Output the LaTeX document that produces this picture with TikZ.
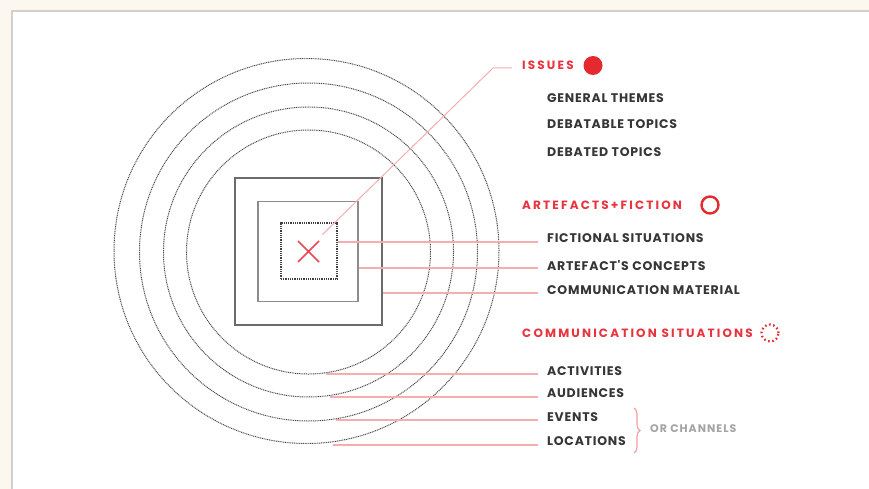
\documentclass[tikz,border=0pt]{standalone}
\usepackage{fontspec}
\usetikzlibrary{decorations.pathreplacing}
\newfontfamily\itemfont{Poppins}[LetterSpace=6]
\newfontfamily\headfont{Poppins}[LetterSpace=18]
\newfontfamily\grayfont{Poppins}[LetterSpace=9]
\definecolor{bgcream}{HTML}{FCF7EF}
\definecolor{panelline}{HTML}{D3CFCB}
\definecolor{hred}{HTML}{E8343F}
\definecolor{dotred}{HTML}{E52A2F}
\definecolor{pinkline}{HTML}{F4AEB3}
\definecolor{darktext}{HTML}{363636}
\definecolor{graytext}{HTML}{A4A4A4}
\definecolor{ringgray}{HTML}{4A4A4A}
\tikzset{
  ring/.style={circle, draw=ringgray, line width=1pt, dash pattern=on 1pt off 0.8pt, inner sep=0pt},
  sqbox/.style={rectangle, draw, inner sep=0pt},
  item/.style={anchor=west, inner sep=0pt, text=darktext, font=\itemfont\bfseries\fontsize{12.5}{12.5}\selectfont},
  head/.style={anchor=west, inner sep=0pt, text=hred, font=\headfont\bfseries\fontsize{12}{12}\selectfont},
  note/.style={anchor=west, inner sep=0pt, text=graytext, font=\grayfont\bfseries\fontsize{11}{11}\selectfont},
  conn/.style={draw=pinkline, line width=1.2pt},
}
\begin{document}
\begin{tikzpicture}[x=1pt,y=-1pt]
\useasboundingbox (0,0) rectangle (869,489);
\fill[bgcream] (0,0) rectangle (869,489);
\fill[white] (12,11) rectangle (869,489);
\draw[panelline, line width=1.5pt] (12,489) -- (12,11) -- (869,11);

% rings
\node[ring, minimum size=244pt] (c1) at (308.5,252) {};
\node[ring, minimum size=290pt] (c2) at (308.5,252) {};
\node[ring, minimum size=338pt] (c3) at (308.5,252) {};
\node[ring, minimum size=385pt] (c4) at (306.5,251) {};

% squares
\node[sqbox, draw=black!58, line width=1.6pt, minimum size=147pt] (sq1) at (308.5,251.5) {};
\node[sqbox, draw=black!45, line width=1.3pt, minimum size=100pt] (sq2) at (308,251.5) {};
\node[sqbox, draw=black!75, line width=1.3pt, dash pattern=on 1pt off 0.8pt, minimum size=56pt] (sq3) at (309,251) {};

% red X
\coordinate (xa) at (298,241);
\coordinate (xb) at (319,262);
\coordinate (xc) at (319,241);
\coordinate (xd) at (298,262);
\draw[hred!90, line width=1.5pt] (xa) -- (xb) (xc) -- (xd);

% headers
\node[head] (issues) at (522,65.5) {ISSUES};
\fill[dotred] (593,65.5) circle (9.5pt);
\node[head] (artf) at (522,205.5) {ARTEFACTS+FICTION};
\draw[dotred, line width=2.4pt] (710,205) circle (8.5pt);
\node[head] (comm) at (522,333) {COMMUNICATION SITUATIONS};
\draw[dotred, line width=2.2pt, dash pattern=on 1.6pt off 2.6pt] (770,333) circle (8.5pt);

% items
\node[item] (gen) at (547,98) {GENERAL THEMES};
\node[item] (deb) at (547,124.5) {DEBATABLE TOPICS};
\node[item] (dbd) at (547,152.5) {DEBATED TOPICS};
\node[item] (fict) at (547,238.5) {FICTIONAL SITUATIONS};
\node[item] (conc) at (547,266) {ARTEFACT'S CONCEPTS};
\node[item] (mat) at (547,290.5) {COMMUNICATION MATERIAL};
\node[item] (act) at (547,371) {ACTIVITIES};
\node[item] (aud) at (547,393.5) {AUDIENCES};
\node[item] (evt) at (547,417) {EVENTS};
\node[item] (loc) at (547,441) {LOCATIONS};
\node[note] (orch) at (650,429) {OR CHANNELS};

% issue connector
\coordinate (iss0) at (322,235);
\coordinate (iss1) at (493,68);
\coordinate (iss2) at (512,68);
\draw[draw=pinkline, line width=1pt] (iss0) -- (iss1) -- (iss2);

% artefact connectors
\coordinate (fE) at (538,242);
\coordinate (cE) at (538,268);
\coordinate (mE) at (538,293);
\draw[conn] (sq3.east |- fE) -- (fE);
\draw[conn] (sq2.east |- cE) -- (cE);
\draw[conn] (sq1.east |- mE) -- (mE);

% situation connectors
\coordinate (aS) at (326,374);  \coordinate (aE) at (538,374);
\coordinate (uS) at (330,397);  \coordinate (uE) at (538,397);
\coordinate (eS) at (336,420);  \coordinate (eE) at (538,420);
\coordinate (lS) at (333,445);  \coordinate (lE) at (538,445);
\draw[conn] (aS) -- (aE);
\draw[conn] (uS) -- (uE);
\draw[conn] (eS) -- (eE);
\draw[conn] (lS) -- (lE);

% brace
\coordinate (bT) at (634,408);
\coordinate (bB) at (634,453);
\draw[draw=pinkline!90!red, line width=1.1pt, decorate, decoration={brace, amplitude=6pt}] (bT) -- (bB);
\end{tikzpicture}
\end{document}
